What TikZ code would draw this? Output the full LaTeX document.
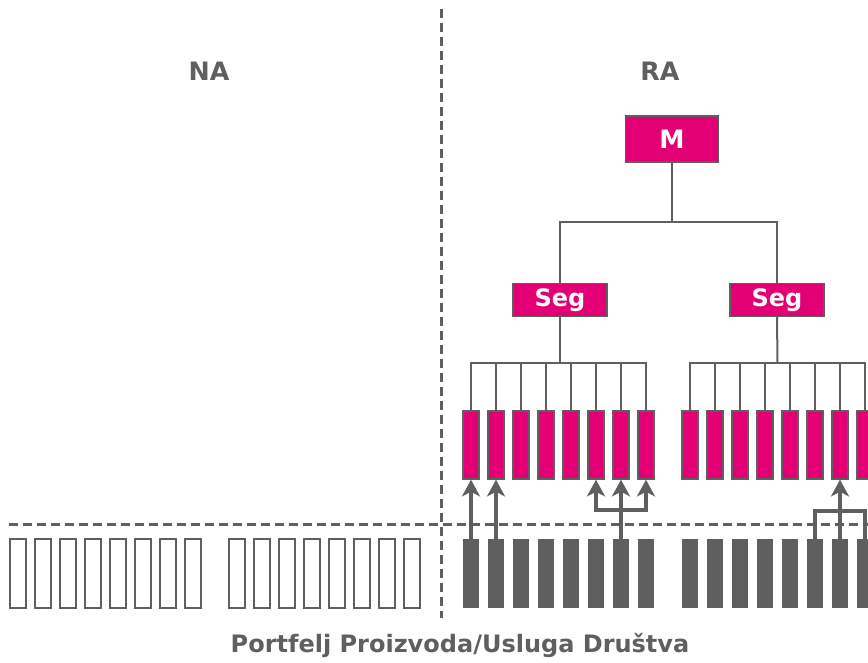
\documentclass[tikz,border=0pt]{standalone}
\usepackage{fontspec}
\setmainfont{DejaVu Sans}
\usetikzlibrary{arrows.meta}

\definecolor{tmagenta}{HTML}{E20074}
\definecolor{tgray}{HTML}{5F5F5F}

\tikzset{
	pinkbar/.style={draw=tgray,line width=1.1pt,fill=tmagenta,minimum width=12pt,minimum height=51pt,inner sep=0pt},
	graybar/.style={fill=tgray,minimum width=12pt,minimum height=51.75pt,inner sep=0pt},
	emptybar/.style={draw=tgray,line width=1.1pt,fill=white,minimum width=12pt,minimum height=51.75pt,inner sep=0pt},
	pinkbox/.style={draw=tgray,line width=1.1pt,fill=tmagenta,text=white,font=\bfseries\fontsize{18}{18}\selectfont,inner sep=0pt},
	tree/.style={draw=tgray,line width=1pt},
	link/.style={draw=tgray,line width=2.3pt},
	arr/.style={link,-{Stealth[length=12.5pt,width=13.5pt,inset=3.5pt]}},
	sep/.style={draw=tgray,line width=2.25pt,dash pattern={on 6.5pt off 4pt}},
	lbl/.style={text=tgray,font=\bfseries\fontsize{19}{19}\selectfont,inner sep=0pt}
}

\begin{document}
\begin{tikzpicture}[x=0.75pt,y=0.75pt,yscale=-1]
	\useasboundingbox (0,0) rectangle (868,662);
	
	%Dashed separators
	\draw [sep] (441,9) -- (441,618) ;
	\draw [sep] (9,524) -- (868,524) ;
	
	% Text Node
	\node [lbl] (na) at (209,71) {NA};
	% Text Node
	\node [lbl] (ra) at (660,71) {RA};
	% Text Node
	\node [lbl,font=\bfseries\fontsize{18}{18}\selectfont] (title) at (460,645) {Portfelj Proizvoda/Usluga Društva};
	
	%Tree boxes
	\node [pinkbox,minimum width=69.75pt,minimum height=34.5pt,font=\bfseries\fontsize{19}{19}\selectfont] (m) at (672,139) {M};
	\node [pinkbox,minimum width=70.5pt,minimum height=24.75pt] (segl) at (560,300) {Seg};
	\node [pinkbox,minimum width=70.5pt,minimum height=24.75pt] (segr) at (777,300) {Seg};
	
	%Bars: left (NA) outlined, right (RA) pink and gray
	\foreach \i in {1,...,8} {
		\node [emptybar] (o\i) at ({18+25*(\i-1)},573.5) {};
		\node [pinkbar] (p\i) at ({471+25*(\i-1)},445) {};
		\node [graybar] (g\i) at ({471+25*(\i-1)},573.5) {};
	}
	\foreach \i in {9,...,16} {
		\node [emptybar] (o\i) at ({237+25*(\i-9)},573.5) {};
		\node [pinkbar] (p\i) at ({690+25*(\i-9)},445) {};
		\node [graybar] (g\i) at ({690+25*(\i-9)},573.5) {};
	}
	
	%Tree lines
	\coordinate (mj) at (672,222);
	\draw [tree,line width=1.5pt] (m.south) -- (mj) ;
	\draw [tree] (segl.north) |- (mj) -| (segr.north) ;
	\coordinate (lj) at (560,363);
	\coordinate (rj) at (777.5,363);
	\draw [tree] (segl.south) -- (lj) ;
	\draw [tree,line width=1.5pt] (segr.south) -- (rj) ;
	\foreach \i in {1,...,8} \draw [tree] (lj) -| (p\i.north) ;
	\foreach \i in {9,...,16} \draw [tree] (rj) -| (p\i.north) ;
	
	%Arrows from gray bars up to pink bars
	\draw [arr] (g1.north) -- (p1.south) ;
	\draw [arr] (g2.north) -- (p2.south) ;
	\coordinate (fl) at (621,510);
	\draw [arr] (g7.north) -- (p7.south) ;
	\draw [arr] (fl) -| (p6.south) ;
	\draw [arr] (fl) -| (p8.south) ;
	\coordinate (fr) at (840,511);
	\draw [arr] (g15.north) -- (p15.south) ;
	\draw [link] (g14.north) |- (fr) -| (g16.north) ;
	
\end{tikzpicture}
\end{document}
